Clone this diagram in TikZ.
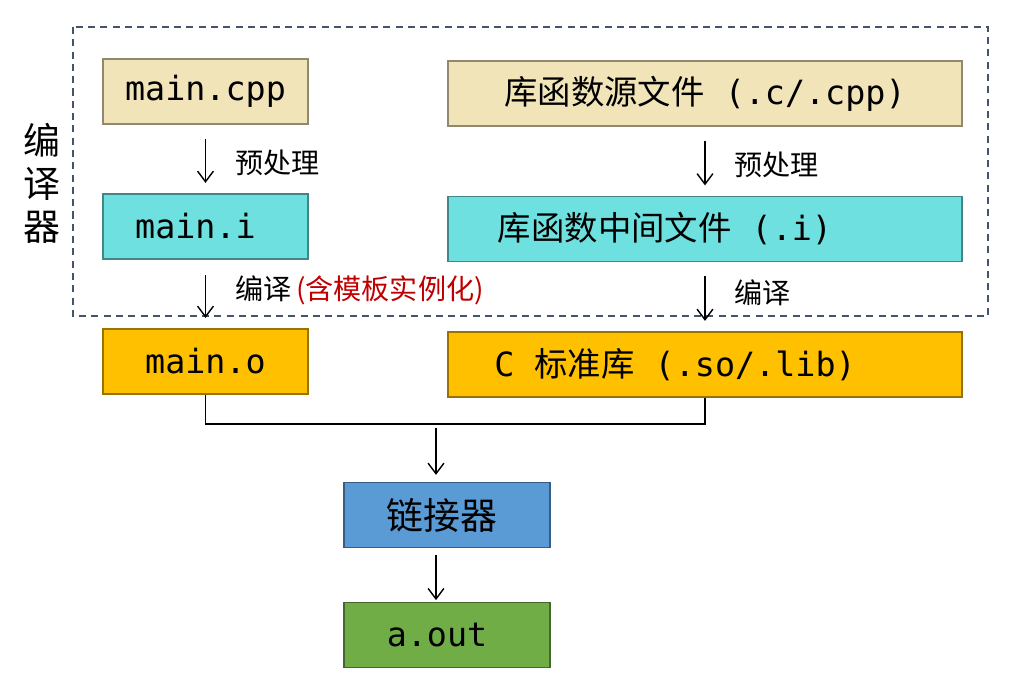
\documentclass[tikz,border=0pt]{standalone}
\usepackage{fontspec}
\setmonofont{DejaVu Sans Mono}
\newfontfamily\cjk{Noto Sans CJK SC}
\usetikzlibrary{arrows.meta, positioning}

\definecolor{srcbeige}{HTML}{F1E4B9}
\definecolor{midcyan}{HTML}{6EE0E0}
\definecolor{objorange}{HTML}{FFC000}
\definecolor{linkblue}{HTML}{5B9BD5}
\definecolor{outgreen}{HTML}{70AD47}
\definecolor{framegray}{HTML}{44546A}
\definecolor{notered}{HTML}{C00000}

\begin{document}
\begin{tikzpicture}[x=0.02cm, y=-0.02cm,
  filebox/.style={draw=#1!60!black, fill=#1, line width=0.7pt, minimum height=1.3cm,
    inner sep=0pt, font=\fontsize{19}{22}\selectfont\ttfamily},
  smallbox/.style={filebox=#1, minimum width=4.1cm},
  widebox/.style={filebox=#1, minimum width=10.28cm},
  flow/.style={-{Straight Barb[length=6pt,width=9pt]}, line width=0.8pt},
  phase/.style={right=0.58cm, yshift=-2pt, font=\fontsize{16}{18}\selectfont\cjk, inner sep=0pt}]
\useasboundingbox (0,0) rectangle (1020,694);

% compiler frame
\draw[framegray, line width=0.8pt, dash pattern=on 4pt off 3pt] (73,27) rectangle (988,316);
\node[font=\fontsize{21}{24.5}\selectfont\cjk, align=center] (compiler) at (42,183) {编\\译\\器};

% left column
\node[smallbox=srcbeige] (mcpp) at (205.5,91.5) {main.cpp};
\node[smallbox=midcyan] (mi) at (205.5,226.5) {main.i\rule{0.4cm}{0pt}};
\node[smallbox=objorange] (mo) at (205.5,361.5) {main.o};

% right column
\node[widebox=srcbeige] (src) at (705,93.5) {{\cjk 库函数源文件} (.c/.cpp)};
\node[widebox=midcyan] (mid) at (705,229) {{\cjk 库函数中间文件} (.i)\rule{1.6cm}{0pt}};
\node[widebox=objorange] (clib) at (705,364.5) {C {\cjk 标准库} (.so/.lib)\rule{1.2cm}{0pt}};

% linking
\node[filebox=linkblue, minimum width=4.12cm, font=\fontsize{21}{24}\selectfont\cjk] (linker) at (447,515) {链接器\rule{0.2cm}{0pt}};
\node[filebox=outgreen, minimum width=4.12cm] (aout) at (447,635) {a.out\rule{0.4cm}{0pt}};

\draw[flow, shorten <=8pt, shorten >=6pt] (mcpp) -- node[phase] {预处理} (mi);
\draw[flow, shorten <=9pt, shorten >=6pt] (mi) -- node[phase, yshift=4pt] {编译\,{\color{notered}(含模板实例化)}} (mo);
\draw[flow, shorten <=8pt, shorten >=6pt] (src.south) -- node[phase] {预处理} (mid.north);
\draw[flow, shorten <=8pt, shorten >=6pt] (mid.south) -- node[phase, yshift=4pt] {编译} (clib.north);

\coordinate (merge) at (436,424);
\draw[line width=1.1pt] (mo.south) |- (merge) -| (clib.south);
\draw[flow, shorten <=2pt, shorten >=4pt] (merge) -- (merge |- linker.north);
\draw[flow, shorten <=4pt, shorten >=1pt] (merge |- linker.south) -- (merge |- aout.north);
\end{tikzpicture}
\end{document}
